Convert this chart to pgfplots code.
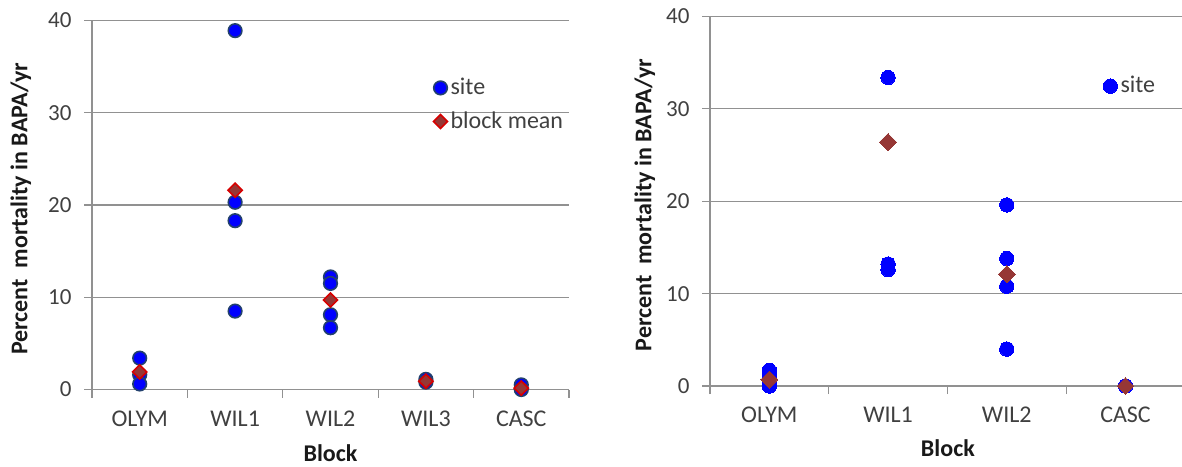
\documentclass[border=0pt]{standalone}
\usepackage{fontspec}
\setmainfont{Carlito}
\usepackage{pgfplots}
\pgfplotsset{compat=1.18}
\definecolor{gridgray}{RGB}{145,145,145}
\definecolor{tickgray}{RGB}{64,64,64}
\definecolor{siteblue}{RGB}{0,0,255}
\definecolor{siteedge}{RGB}{35,65,110}
\definecolor{meanfill}{RGB}{150,55,53}
\definecolor{meanedge}{RGB}{215,0,0}
\pgfplotsset{
  only mark legend/.style={
    legend image code/.code={\draw[mark repeat=2,mark phase=2,##1] plot coordinates {(-4pt,0pt) (0pt,0pt) (5.3pt,0pt)};}},
  blockaxis/.style={
    scale only axis, clip=false,
    ymin=0, ymax=40, ytick={0,10,20,30,40},
    xmin=-0.5,
    axis x line*=bottom, axis y line*=left,
    axis line style={draw=gridgray, line width=0.6pt},
    ymajorgrids, major grid style={draw=gridgray, line width=0.6pt},
    tick align=outside, major tick length=4pt,
    tick style={draw=gridgray, line width=0.6pt},
    /pgf/number format/assume math mode=true,
    yticklabel style={font=\fontsize{11.5}{13}\selectfont, text=tickgray, xshift=-2.7pt},
    xticklabels={},
    extra x tick style={major tick length=0pt,
      xticklabel style={font=\fontsize{12}{14}\selectfont, text=tickgray, yshift=-7pt}},
    ylabel={Percent\ \ mortality in BAPA/yr}, xlabel={Block},
    label style={font=\bfseries\fontsize{12}{14}\selectfont, text=black!90},
    legend style={draw=none, fill=none, inner sep=0pt, row sep=4pt,
      font=\fontsize{12}{14}\selectfont, text=tickgray, nodes={inner sep=1.5pt}},
    legend cell align=left,
  }
}
\begin{document}
\begin{tikzpicture}
\path[use as bounding box] (0,0) rectangle (591pt,233pt);
% ---------------- left panel ----------------
\begin{axis}[blockaxis,
  at={(46pt,38.25pt)}, anchor=south west,
  width=238.5pt, height=184.5pt,
  xmax=4.5,
  xtick={-0.5,0.5,1.5,2.5,3.5,4.5},
  extra x ticks={0,1,2,3,4},
  extra x tick labels={OLYM,WIL1,WIL2,WIL3,CASC},
  ylabel style={at={(axis description cs:-0.149,0.49)}, anchor=center},
  xlabel style={at={(axis description cs:0.5,-0.172)}, anchor=center},
  legend style={at={(axis description cs:0.715,0.853)}, anchor=north west},
]
\addplot[only marks, mark=*, mark size=3.4pt,
  mark options={fill=siteblue, draw=siteedge, line width=0.8pt}]
  coordinates {
  (0,3.4) (0,1.6) (0,0.6)
  (1,38.9) (1,20.3) (1,18.3) (1,8.5)
  (2,12.2) (2,11.5) (2,8.1) (2,6.7)
  (3,1.1) (3,0.8)
  (4,0.5) (4,0.0)
  };
\addlegendentry{site}
\addplot[only marks, mark=square*, mark size=2.5pt,
  mark options={rotate=45, fill=meanfill, draw=meanedge, line width=0.8pt}]
  coordinates {
  (0,1.9) (1,21.6) (2,9.7) (3,0.9) (4,0.15)
  };
\addlegendentry{block mean}
\end{axis}
% ---------------- right panel ----------------
\begin{axis}[blockaxis,
  at={(355pt,40pt)}, anchor=south west,
  width=236pt, height=184.75pt,
  xmax=3.476,
  xtick={-0.5,0.5,1.5,2.5},
  extra x ticks={0,1,2,3},
  extra x tick labels={OLYM,WIL1,WIL2,CASC},
  ylabel style={at={(axis description cs:-0.138,0.49)}, anchor=center},
  xlabel style={at={(axis description cs:0.504,-0.169)}, anchor=center},
  legend style={at={(axis description cs:0.832,0.847)}, anchor=north west},
]
\addplot[only marks, mark=*, mark size=3.6pt,
  mark options={fill=siteblue, draw=siteblue, line width=0pt}]
  coordinates {
  (0,1.7) (0,1.2) (0,0.1) (0,0.0)
  (1,33.4) (1,13.2) (1,12.6)
  (2,19.6) (2,13.8) (2,10.8) (2,4.0)
  (3,0.0)
  };
\addlegendentry{site}
\addplot[only marks, mark=square*, mark size=3pt, forget plot,
  mark options={rotate=45, fill=meanfill, draw=meanfill, line width=0pt}]
  coordinates {
  (0,0.7) (1,26.4) (2,12.1) (3,0.0)
  };
\end{axis}
\end{tikzpicture}
\end{document}
